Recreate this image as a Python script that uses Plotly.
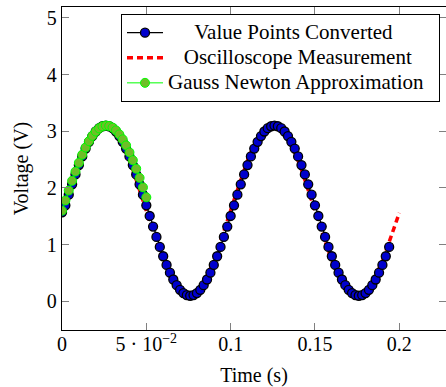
import plotly.graph_objects as go

# Time samples (s)
time = [
    0.000, 0.002, 0.004, 0.006, 0.008, 0.010, 0.012, 0.014, 0.016, 0.018,
    0.020, 0.022, 0.024, 0.026, 0.028, 0.030, 0.032, 0.034, 0.036, 0.038,
    0.040, 0.042, 0.044, 0.046, 0.048, 0.050, 0.052, 0.054, 0.056, 0.058,
    0.060, 0.062, 0.064, 0.066, 0.068, 0.070, 0.072, 0.074, 0.076, 0.078,
    0.080, 0.082, 0.084, 0.086, 0.088, 0.090, 0.092, 0.094, 0.096, 0.098,
    0.100, 0.102, 0.104, 0.106, 0.108, 0.110, 0.112, 0.114, 0.116, 0.118,
    0.120, 0.122, 0.124, 0.126, 0.128, 0.130, 0.132, 0.134, 0.136, 0.138,
    0.140, 0.142, 0.144, 0.146, 0.148, 0.150, 0.152, 0.154, 0.156, 0.158,
    0.160, 0.162, 0.164, 0.166, 0.168, 0.170, 0.172, 0.174, 0.176, 0.178,
    0.180, 0.182, 0.184, 0.186, 0.188, 0.190, 0.192, 0.194, 0.196, 0.198,
    0.200,
]

# Oscilloscope measurement (V)
scope_v = [
    1.600, 1.788, 1.973, 2.152, 2.323, 2.482, 2.627, 2.756, 2.866, 2.957,
    3.027, 3.073, 3.097, 3.097, 3.073, 3.027, 2.957, 2.866, 2.756, 2.627,
    2.482, 2.323, 2.152, 1.973, 1.788, 1.600, 1.412, 1.227, 1.048, 0.877,
    0.718, 0.573, 0.444, 0.334, 0.243, 0.173, 0.127, 0.103, 0.103, 0.127,
    0.173, 0.243, 0.334, 0.444, 0.573, 0.718, 0.877, 1.048, 1.227, 1.412,
    1.600, 1.788, 1.973, 2.152, 2.323, 2.482, 2.627, 2.756, 2.866, 2.957,
    3.027, 3.073, 3.097, 3.097, 3.073, 3.027, 2.957, 2.866, 2.756, 2.627,
    2.482, 2.323, 2.152, 1.973, 1.788, 1.600, 1.412, 1.227, 1.048, 0.877,
    0.718, 0.573, 0.444, 0.334, 0.243, 0.173, 0.127, 0.103, 0.103, 0.127,
    0.173, 0.243, 0.334, 0.444, 0.573, 0.718, 0.877, 1.048, 1.227, 1.412,
    1.560,
]

# Converted value points (V), one per time sample up to 0.194 s
points_v = [
    1.570,
    1.694, 1.881, 2.064, 2.239, 2.404, 2.556, 2.694, 2.814, 2.914, 2.995,
    3.053, 3.088, 3.100, 3.088, 3.053, 2.995, 2.914, 2.814, 2.694, 2.556,
    2.404, 2.239, 2.064, 1.881, 1.694, 1.506, 1.319, 1.136, 0.961, 0.796,
    0.644, 0.506, 0.386, 0.286, 0.205, 0.147, 0.112, 0.100, 0.112, 0.147,
    0.205, 0.286, 0.386, 0.506, 0.644, 0.796, 0.961, 1.136, 1.319, 1.506,
    1.694, 1.881, 2.064, 2.239, 2.404, 2.556, 2.694, 2.814, 2.914, 2.995,
    3.053, 3.088, 3.100, 3.088, 3.053, 2.995, 2.914, 2.814, 2.694, 2.556,
    2.404, 2.239, 2.064, 1.881, 1.694, 1.506, 1.319, 1.136, 0.961, 0.796,
    0.644, 0.506, 0.386, 0.286, 0.205, 0.147, 0.112, 0.100, 0.112, 0.147,
    0.205, 0.286, 0.386, 0.506, 0.644, 0.796, 0.961,
]

# Gauss Newton approximation (V), first 0.05 s
gauss_v = [
    1.600, 1.779, 1.955, 2.126, 2.289, 2.443, 2.585, 2.713, 2.824, 2.919,
    2.995, 3.051, 3.086, 3.100, 3.092, 3.064, 3.015, 2.945, 2.857, 2.750,
    2.627, 2.489, 2.339, 2.178, 2.010, 1.835,
]

x_tickvals = [0, 0.05, 0.1, 0.15, 0.2]
x_ticktext = ["0", "5 · 10<sup>−2</sup>", "0.1", "0.15", "0.2"]
y_tickvals = [0, 1, 2, 3, 4, 5]

FONT = "Liberation Serif, Times New Roman, serif"
NB = "\u00a0"


def legend_name(text, lead, trail):
    return ('<span style="font-size:21px">' + NB * lead + text + NB * trail
            + "</span>")


fig = go.Figure()
fig.add_trace(go.Scatter(
    x=time, y=scope_v, mode="lines",
    name=legend_name("Oscilloscope Measurement", 3, 4),
    line=dict(color="rgb(255,0,0)", width=3.5, dash="6px,4px"),
    legendrank=2,
))
fig.add_trace(go.Scatter(
    x=time[:len(points_v)], y=points_v, mode="lines+markers",
    name=legend_name("Value Points Converted", 5, 4),
    line=dict(color="black", width=1.3),
    marker=dict(symbol="circle", size=9, color="rgb(0,0,205)",
                line=dict(color="black", width=1.3)),
    legendrank=1,
))
fig.add_trace(go.Scatter(
    x=time[:len(gauss_v)], y=gauss_v, mode="lines+markers",
    name=legend_name("Gauss Newton Approximation", 0, 2),
    line=dict(color="rgb(0,255,0)", width=1),
    marker=dict(symbol="circle", size=9, color="rgb(110,190,40)",
                line=dict(color="rgb(0,255,0)", width=1)),
    legendrank=3,
))

axis_common = dict(
    showgrid=False, zeroline=False, showline=True, linecolor="black",
    linewidth=1.3, mirror="ticks", ticks="inside", ticklen=7,
    tickcolor="#808080", tickwidth=1, automargin=False,
    tickfont=dict(family=FONT, size=20, color="black"),
)

fig.update_layout(
    width=446, height=387,
    margin=dict(l=62, r=0, t=7, b=57),
    paper_bgcolor="white", plot_bgcolor="white",
    font=dict(family=FONT, size=20, color="black"),
    xaxis=dict(range=[0, 0.2277], tickvals=x_tickvals, ticktext=x_ticktext,
               ticklabelstandoff=-4,
               title=dict(text="Time (s)", font=dict(family=FONT, size=20),
                          standoff=14),
               **axis_common),
    yaxis=dict(range=[-0.504, 5.19], tickvals=y_tickvals,
               title=dict(text="Voltage (V)", font=dict(family=FONT, size=20),
                          standoff=12),
               **axis_common),
    legend=dict(x=(121 - 62) / 384, y=0.978, xanchor="left", yanchor="top",
                itemwidth=36,
                bordercolor="black", borderwidth=1, bgcolor="white",
                font=dict(family=FONT, size=17, color="black")),
)

fig.write_html(
    "out.html",
    config={"displayModeBar": False},
    post_script="document.body.style.margin='0';document.body.style.padding='0';",
)
